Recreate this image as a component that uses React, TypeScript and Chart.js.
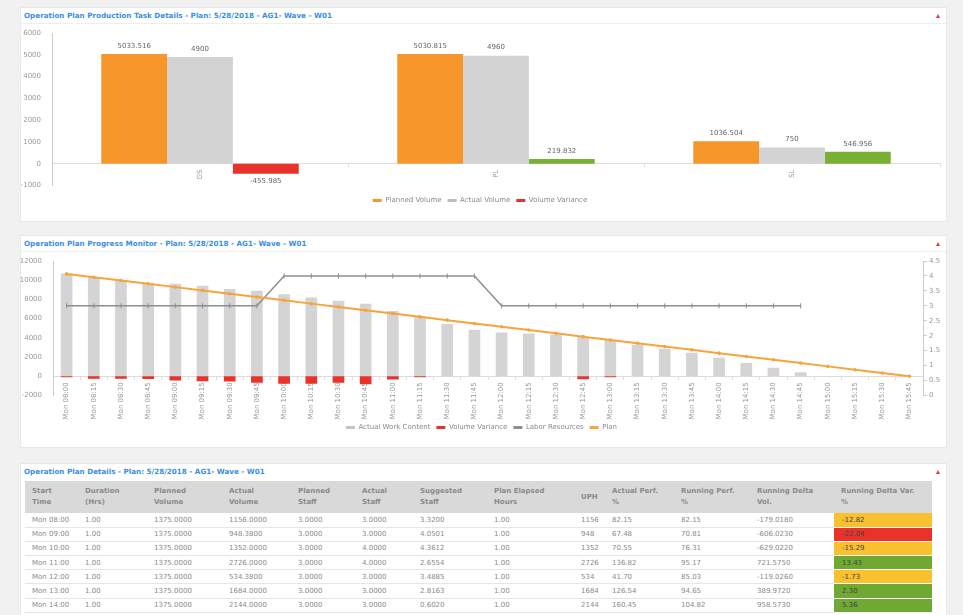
import React, { useEffect, useRef } from 'react';
import { Chart, registerables } from 'chart.js';

Chart.register(...registerables);

// ---------- Chart 1 data ----------
const TASK_GROUPS = ['GS', 'PL', 'SL'];
const PLANNED_VOLUME = [5033.516, 5030.815, 1036.504];
const ACTUAL_VOLUME = [4900, 4960, 750];
const VOLUME_VARIANCE = [-455.985, 219.832, 546.956];

// ---------- Chart 2 data ----------
const TIME_SLOTS = [
  'Mon 08:00', 'Mon 08:15', 'Mon 08:30', 'Mon 08:45',
  'Mon 09:00', 'Mon 09:15', 'Mon 09:30', 'Mon 09:45',
  'Mon 10:00', 'Mon 10:15', 'Mon 10:30', 'Mon 10:45',
  'Mon 11:00', 'Mon 11:15', 'Mon 11:30', 'Mon 11:45',
  'Mon 12:00', 'Mon 12:15', 'Mon 12:30', 'Mon 12:45',
  'Mon 13:00', 'Mon 13:15', 'Mon 13:30', 'Mon 13:45',
  'Mon 14:00', 'Mon 14:15', 'Mon 14:30', 'Mon 14:45',
  'Mon 15:00', 'Mon 15:15', 'Mon 15:30', 'Mon 15:45',
];
const WORK_CONTENT = [
  10700, 10330, 9990, 9740, 9640, 9430, 9080, 8910,
  8530, 8210, 7870, 7560, 6790, 6160, 5430, 4850,
  4570, 4450, 4340, 4090, 3810, 3290, 2870, 2450,
  1930, 1370, 890, 430, 0, 0, 0, 0,
];
const SLOT_VARIANCE = [
  -90, -260, -260, -290, -440, -510, -540, -680,
  -780, -780, -680, -820, -330, -100, 0, 0,
  0, 0, 0, -300, -100, 0, 0, 0,
  0, 0, 0, 0, 0, 0, 0, 0,
];
const LABOR_RESOURCES = [
  3, 3, 3, 3, 3, 3, 3, 3,
  4, 4, 4, 4, 4, 4, 4, 4,
  3, 3, 3, 3, 3, 3, 3, 3,
  3, 3, 3, 3, null, null, null, null,
];
const PLAN = [
  10656, 10313, 9969, 9625, 9281, 8938, 8594, 8250,
  7906, 7563, 7219, 6875, 6531, 6188, 5844, 5500,
  5156, 4813, 4469, 4125, 3781, 3438, 3094, 2750,
  2406, 2063, 1719, 1375, 1031, 688, 344, 0,
];

// ---------- Table data ----------
const TABLE_HEADERS = [
  ['Start', 'Time'], ['Duration', '(Hrs)'], ['Planned', 'Volume'], ['Actual', 'Volume'],
  ['Planned', 'Staff'], ['Actual', 'Staff'], ['Suggested', 'Staff'], ['Plan Elapsed', 'Hours'],
  ['UPH'], ['Actual Perf.', '%'], ['Running Perf.', '%'], ['Running Delta', 'Vol.'],
  ['Running Delta Var.', '%'],
];
const START_TIME = ['Mon 08:00', 'Mon 09:00', 'Mon 10:00', 'Mon 11:00', 'Mon 12:00', 'Mon 13:00', 'Mon 14:00'];
const DURATION = ['1.00', '1.00', '1.00', '1.00', '1.00', '1.00', '1.00'];
const ROW_PLANNED_VOLUME = ['1375.0000', '1375.0000', '1375.0000', '1375.0000', '1375.0000', '1375.0000', '1375.0000'];
const ROW_ACTUAL_VOLUME = ['1156.0000', '948.3800', '1352.0000', '2726.0000', '534.3800', '1684.0000', '2144.0000'];
const PLANNED_STAFF = ['3.0000', '3.0000', '3.0000', '3.0000', '3.0000', '3.0000', '3.0000'];
const ACTUAL_STAFF = ['3.0000', '3.0000', '4.0000', '4.0000', '3.0000', '3.0000', '3.0000'];
const SUGGESTED_STAFF = ['3.3200', '4.0501', '4.3612', '2.6554', '3.4885', '2.8163', '0.6020'];
const PLAN_ELAPSED = ['1.00', '1.00', '1.00', '1.00', '1.00', '1.00', '1.00'];
const UPH = ['1156', '948', '1352', '2726', '534', '1684', '2144'];
const ACTUAL_PERF = ['82.15', '67.48', '70.55', '136.82', '41.70', '126.54', '160.45'];
const RUNNING_PERF = ['82.15', '70.81', '76.31', '95.17', '85.03', '94.65', '104.82'];
const RUNNING_DELTA_VOL = ['-179.0180', '-606.0230', '-629.0220', '721.5750', '-119.0260', '389.9720', '958.5730'];
const RUNNING_DELTA_VAR = [-12.82, -22.04, -15.29, 13.43, -1.73, 2.3, 5.36];

const FONT = '"DejaVu Sans", Verdana, sans-serif';
const ORANGE = '#f7962b';
const GRAY_BAR = '#d3d3d3';
const RED = '#e8322a';
const GREEN = '#77b033';
const LINE_ORANGE = '#f7a43c';
const LABOR_GRAY = '#8e8e8e';

Chart.defaults.font.family = FONT;
Chart.defaults.font.size = 7;
Chart.defaults.color = '#999';

const valueLabels = {
  id: 'valueLabels',
  afterDatasetsDraw(chart: any) {
    const ctx = chart.ctx;
    ctx.save();
    ctx.font = `7px ${FONT}`;
    ctx.fillStyle = '#666';
    ctx.textAlign = 'center';
    ctx.textBaseline = 'middle';
    chart.data.datasets.forEach((ds: any, i: number) => {
      chart.getDatasetMeta(i).data.forEach((bar: any, j: number) => {
        const v = ds.data[j];
        ctx.fillText(String(v), bar.x, v >= 0 ? bar.y - 8 : bar.y + 8);
      });
    });
    ctx.restore();
  },
};

function legendOpts(colors: string[], titlePad: number) {
  return {
    position: 'bottom' as const,
    title: { display: true, text: ' ', padding: { top: titlePad, bottom: 0 }, font: { size: 1 } },
    labels: {
      boxWidth: 9,
      boxHeight: 3,
      padding: 6,
      color: '#8a8a8a',
      font: { size: 7 },
      generateLabels: (chart: any) =>
        chart.data.datasets.map((ds: any, i: number) => ({
          text: ds.label,
          fillStyle: colors[i],
          strokeStyle: colors[i],
          lineWidth: 0,
          hidden: false,
          datasetIndex: i,
          fontColor: '#8a8a8a',
        })),
    },
  };
}

function TaskChart() {
  const ref = useRef<HTMLCanvasElement>(null);
  useEffect(() => {
    const chart = new Chart(ref.current!, {
      type: 'bar',
      data: {
        labels: TASK_GROUPS,
        datasets: [
          { label: 'Planned Volume', data: PLANNED_VOLUME, backgroundColor: ORANGE },
          { label: 'Actual Volume', data: ACTUAL_VOLUME, backgroundColor: GRAY_BAR },
          {
            label: 'Volume Variance',
            data: VOLUME_VARIANCE,
            backgroundColor: VOLUME_VARIANCE.map((v) => (v < 0 ? RED : GREEN)),
          },
        ],
      },
      options: {
        responsive: false,
        animation: false,
        layout: { padding: { left: 0, right: 7, top: 9, bottom: 0 } },
        datasets: { bar: { categoryPercentage: 0.667, barPercentage: 1 } },
        scales: {
          x: {
            position: { y: 0 } as any,
            grid: { display: true, drawOnChartArea: false, tickLength: 3, color: '#ddd' },
            border: { color: '#ddd' },
            ticks: { maxRotation: 90, minRotation: 90, color: '#999', padding: 3 },
          },
          y: {
            min: -1000,
            max: 6000,
            ticks: { stepSize: 1000, color: '#999', callback: (v: any) => String(v) },
            grid: { display: false },
            border: { display: true, color: '#ccc' },
            afterFit: (s: any) => { s.width = 32; },
          },
        },
        plugins: {
          legend: legendOpts([ORANGE, '#bdbdbd', RED], 4.3) as any,
          tooltip: { enabled: false },
        },
      },
      plugins: [valueLabels],
    });
    return () => chart.destroy();
  }, []);
  return (
    <canvas ref={ref} width={927} height={190}
      style={{ position: 'absolute', left: 20, top: 24, width: 927, height: 190 }} />
  );
}

function ProgressChart() {
  const ref = useRef<HTMLCanvasElement>(null);
  useEffect(() => {
    const chart = new Chart(ref.current!, {
      type: 'bar',
      data: {
        labels: TIME_SLOTS,
        datasets: [
          {
            type: 'bar', label: 'Actual Work Content', data: WORK_CONTENT,
            backgroundColor: '#d4d4d4', yAxisID: 'y', grouped: false, order: 3,
          } as any,
          {
            type: 'bar', label: 'Volume Variance', data: SLOT_VARIANCE,
            backgroundColor: RED, yAxisID: 'y', grouped: false, order: 2,
          } as any,
          {
            type: 'line', label: 'Labor Resources', data: LABOR_RESOURCES,
            borderColor: LABOR_GRAY, backgroundColor: LABOR_GRAY, borderWidth: 1.5,
            pointStyle: 'line', pointRotation: 90, pointRadius: 2.5, pointBorderWidth: 1,
            yAxisID: 'y2', order: 1, spanGaps: false,
          } as any,
          {
            type: 'line', label: 'Plan', data: PLAN,
            borderColor: LINE_ORANGE, backgroundColor: LINE_ORANGE, borderWidth: 2,
            pointRadius: 1.8, pointBorderWidth: 0, yAxisID: 'y', order: 0,
          } as any,
        ],
      },
      options: {
        responsive: false,
        animation: false,
        layout: { padding: { left: 0, right: 4, top: 10, bottom: 0 } },
        datasets: { bar: { categoryPercentage: 1, barPercentage: 0.43 } },
        scales: {
          x: {
            position: { y: 0 } as any,
            grid: { display: true, drawOnChartArea: false, tickLength: 3, color: '#ddd' },
            border: { color: '#ddd' },
            ticks: { maxRotation: 90, minRotation: 90, autoSkip: false, color: '#999', padding: 3 },
          },
          y: {
            position: 'left',
            min: -2000,
            max: 12000,
            ticks: { stepSize: 2000, color: '#999', callback: (v: any) => String(v) },
            grid: { display: false },
            border: { display: true, color: '#ccc' },
            afterFit: (s: any) => { s.width = 33; },
          },
          y2: {
            position: 'right',
            min: 0,
            max: 4.5,
            ticks: { stepSize: 0.5, color: '#999', padding: 2, callback: (v: any) => String(v) },
            grid: { display: true, drawOnChartArea: false, tickLength: 4, color: '#ccc' },
            border: { display: true, color: '#ccc' },
            afterFit: (s: any) => { s.width = 20; },
          },
        },
        plugins: {
          legend: legendOpts(['#c4c4c4', RED, LABOR_GRAY, LINE_ORANGE], 21.3) as any,
          tooltip: { enabled: false },
        },
      },
    });
    return () => chart.destroy();
  }, []);
  return (
    <canvas ref={ref} width={927} height={190}
      style={{ position: 'absolute', left: 20, top: 251, width: 927, height: 190 }} />
  );
}

function Panel({ top, height, title, line }: { top: number; height: number; title: string; line: boolean }) {
  return (
    <div style={{ position: 'absolute', left: 20, top, width: 927, height, background: '#fff', border: '1px solid #e8e8e8', boxSizing: 'border-box' }}>
      <div style={{ position: 'absolute', left: 3, top: 3, fontFamily: FONT, fontSize: 7.2, fontWeight: 'bold', color: '#3b8fe0', whiteSpace: 'nowrap', lineHeight: '10px' }}>
        {title}
      </div>
      <div style={{ position: 'absolute', right: 6, top: 6, width: 0, height: 0, borderLeft: '2.5px solid transparent', borderRight: '2.5px solid transparent', borderBottom: '4px solid #e53935' }} />
      {line && <div style={{ position: 'absolute', left: 0, right: 0, top: 15, height: 1, background: '#eeeeee' }} />}
    </div>
  );
}

const COL_WIDTHS = [53, 69, 75, 69, 64, 58, 74, 87, 31, 69, 76, 84, 98];

function varColor(v: number) {
  if (v <= -20) return RED;
  if (v < 0) return '#f9c12e';
  return '#6fa832';
}

function DetailsTable() {
  const columns = [
    START_TIME, DURATION, ROW_PLANNED_VOLUME, ROW_ACTUAL_VOLUME, PLANNED_STAFF, ACTUAL_STAFF,
    SUGGESTED_STAFF, PLAN_ELAPSED, UPH, ACTUAL_PERF, RUNNING_PERF, RUNNING_DELTA_VOL,
  ];
  return (
    <table style={{ position: 'absolute', left: 25, top: 481, width: 907, borderCollapse: 'collapse', tableLayout: 'fixed', fontFamily: FONT, fontSize: 7, color: '#8a8a8a' }}>
      <colgroup>
        {COL_WIDTHS.map((w, i) => <col key={i} style={{ width: w }} />)}
      </colgroup>
      <thead>
        <tr style={{ background: '#d9d9d9', height: 32 }}>
          {TABLE_HEADERS.map((h, i) => (
            <th key={i} style={{ textAlign: 'left', padding: '0 0 0 7px', fontWeight: 'bold', lineHeight: '11px', verticalAlign: 'middle', color: '#8a8a8a' }}>
              {h.map((line, k) => <div key={k}>{line}</div>)}
            </th>
          ))}
        </tr>
      </thead>
      <tbody>
        {START_TIME.map((_, r) => (
          <tr key={r} style={{ height: 14.2 }}>
            {columns.map((col, c) => (
              <td key={c} style={{ padding: '0 0 0 7px', borderBottom: '1px solid #e6e6e6', whiteSpace: 'nowrap', lineHeight: '12px' }}>
                {col[r]}
              </td>
            ))}
            <td style={{ padding: '0 0 0 8px', background: varColor(RUNNING_DELTA_VAR[r]), borderBottom: '1px solid #fff', color: '#444', lineHeight: '12px' }}>
              {RUNNING_DELTA_VAR[r].toFixed(2)}
            </td>
          </tr>
        ))}
      </tbody>
    </table>
  );
}

export default function App() {
  return (
    <div style={{ position: 'absolute', left: 0, top: 0, width: 963, height: 615, overflow: 'hidden', background: '#f1f1f1' }}>
      <Panel top={7} height={215} title="Operation Plan Production Task Details - Plan: 5/28/2018 - AG1- Wave - W01" line />
      <TaskChart />
      <Panel top={235} height={213} title="Operation Plan Progress Monitor - Plan: 5/28/2018 - AG1- Wave - W01" line />
      <ProgressChart />
      <Panel top={463} height={200} title="Operation Plan Details - Plan: 5/28/2018 - AG1- Wave - W01" line={false} />
      <DetailsTable />
    </div>
  );
}
